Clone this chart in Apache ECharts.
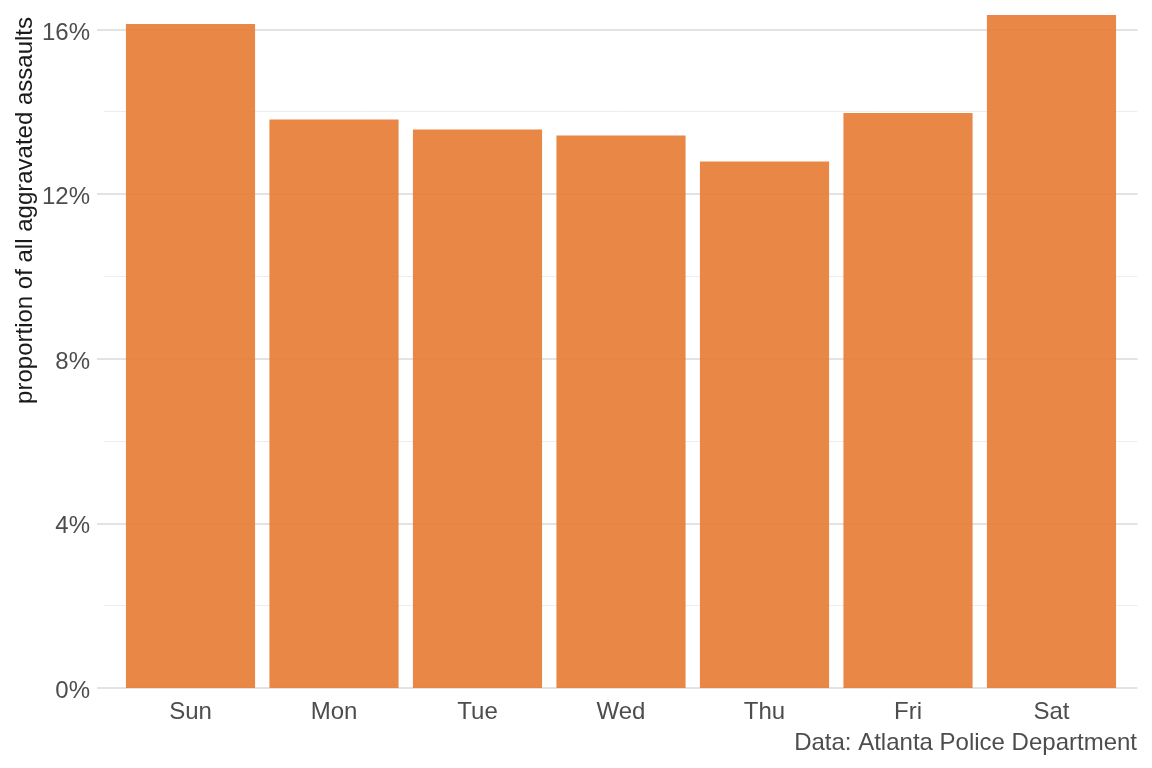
<!DOCTYPE html>
<html>
<head>
<meta charset="utf-8">
<script src="https://cdn.jsdelivr.net/npm/echarts@6/dist/echarts.min.js"></script>
<style>
html,body{margin:0;padding:0;background:#fff;}
#chart{width:1152px;height:768px;}
</style>
</head>
<body>
<div id="chart"></div>
<script>
const days = ['Sun', 'Mon', 'Tue', 'Wed', 'Thu', 'Fri', 'Sat'];
const shares = [16.13, 13.81, 13.57, 13.42, 12.79, 13.97, 16.35];
const yTicks = [0, 4, 8, 12, 16];
const yTitle = 'proportion of all aggravated assaults';
const caption = 'Data: Atlanta Police Department';

const FONT = '"Liberation Sans", Arial, Helvetica, sans-serif';
const barTop = 15;
const base = 688;
const pxPerUnit = (base - barTop) / shares[6];
const gridBottom = 768 - base;
const gridlineTop = base - yTicks[yTicks.length - 1] * pxPerUnit;

const chart = echarts.init(document.getElementById('chart'), null, {renderer: 'canvas'});
chart.setOption({
  animation: false,
  backgroundColor: '#ffffff',
  grid: [
    {left: 104, right: 14.5, top: gridlineTop, bottom: gridBottom},
    {left: 118.75, right: 28.75, top: barTop, bottom: gridBottom}
  ],
  xAxis: [
    {type: 'value', gridIndex: 0, min: 0, max: 1, show: false},
    {
      type: 'category', gridIndex: 1, data: days,
      axisLine: {show: false}, axisTick: {show: false},
      axisLabel: {color: '#4d4d4d', fontFamily: FONT, fontSize: 24, margin: 12}
    }
  ],
  yAxis: [
    {
      type: 'value', gridIndex: 0, min: 0, max: yTicks[yTicks.length - 1], interval: 4,
      axisLine: {show: false},
      axisTick: {show: true, length: 7, lineStyle: {color: '#e3e3e3', width: 2}},
      axisLabel: {
        color: '#4d4d4d', fontFamily: FONT, fontSize: 24, margin: 14,
        formatter: v => '{t|' + v + '%}',
        rich: {t: {fontFamily: FONT, fontSize: 24, color: '#4d4d4d', padding: [7, 0, 0, 0]}}
      },
      splitLine: {show: true, lineStyle: {color: '#e3e3e3', width: 2}},
      minorTick: {show: false, splitNumber: 2},
      minorSplitLine: {show: true, lineStyle: {color: '#ededed', width: 1}}
    },
    {type: 'value', gridIndex: 1, min: 0, max: shares[6], show: false}
  ],
  series: [{
    type: 'bar', xAxisIndex: 1, yAxisIndex: 1,
    data: shares, barCategoryGap: '10%',
    itemStyle: {color: '#e67a32', opacity: 0.9}
  }],
  graphic: [
    {
      type: 'text', x: 25, y: 17, rotation: Math.PI / 2,
      style: {text: yTitle, fill: '#1a1a1a', font: '24px ' + FONT, textAlign: 'right', textVerticalAlign: 'middle'}
    },
    {
      type: 'text', x: 1137, y: 743,
      style: {text: caption, fill: '#4d4d4d', font: '24px ' + FONT, textAlign: 'right', textVerticalAlign: 'middle'}
    }
  ]
});
</script>
</body>
</html>
